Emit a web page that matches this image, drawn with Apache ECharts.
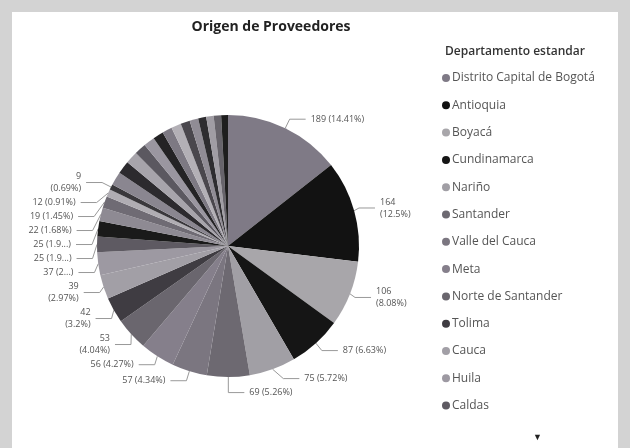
<!DOCTYPE html>
<html><head><meta charset="utf-8">
<script src="https://cdn.jsdelivr.net/npm/echarts@6/dist/echarts.min.js"></script>
<style>html,body{margin:0;padding:0;background:#d3d3d3;}#c{width:630px;height:448px;}</style>
</head><body><div id="c"></div>
<script>
const departamentos = ['Distrito Capital de Bogotá','Antioquia','Boyacá','Cundinamarca','Nariño','Santander','Valle del Cauca','Meta','Norte de Santander','Tolima','Cauca','Huila','Caldas','Risaralda','Atlántico','Bolívar','Quindío','Casanare','Magdalena','Cesar','Córdoba','Sucre','Caquetá','Putumayo','La Guajira','Chocó','Arauca','San Andrés','Amazonas','Guaviare','Vichada','Guainía'];
const proveedores = [189,164,106,87,75,69,57,56,53,42,39,37,25,25,22,19,12,9,22,21,20,19,18,17,16,16,15,14,13,12,12,11];
const etiquetaVisible = 18; // only the first 18 slices show a data label
const leyendaVisible = 13;  // legend shows the first 13 entries
const tituloGrafico = 'Origen de Proveedores';
const tituloLeyenda = 'Departamento estandar';

const colores = ['#7f7a86','#121212','#a8a6aa','#151515','#a19fa5','#6d6971','#7b7680','#857f8b','#6a666e','#3f3c42','#a29fa6','#9d99a2','#5e5a62','#1a1a1a','#8e8a93','#6f6b74','#b0adb3','#3a383c',
  '#8a8690','#2c2a2e','#a7a4ab','#5b5860','#9a96a0','#242325','#7d7983','#b3b0b6','#4a474d','#908c95','#2e2d30','#a09da4','#67646b','#1e1e1e'];
const envolver = [false,true,true,false,false,false,false,false,true,true,true,false,false,false,false,false,false,true];
const recortar = [0,0,0,0,0,0,0,0,0,0,0,5,7,7,0,0,0,0];

const total = proveedores.reduce((a,b)=>a+b,0);
function pct(v){ return String(Math.round(v/total*10000)/100); }

const data = departamentos.map((n,i)=>{
  const show = i < etiquetaVisible;
  return {name:n, value:proveedores[i], itemStyle:{color:colores[i]},
    label:{show:show}, labelLine:{show:show}};
});

const chart = echarts.init(document.getElementById('c'), null, {renderer:'canvas'});
chart.setOption({
  animation:false,
  graphic:[{type:'rect', shape:{x:12,y:12,width:606,height:440}, style:{fill:'#ffffff'}, z:-10},
           {type:'text', left:533, top:433, style:{text:'▼', fontSize:9, fill:'#222'}}],
  title:[{text:tituloGrafico, left:266, top:15, textAlign:'center',
          textStyle:{fontFamily:'Open Sans', fontWeight:'bold', fontSize:14, color:'#222'}},
         {text:tituloLeyenda, left:440, top:41,
          textStyle:{fontFamily:'Open Sans', fontWeight:600, fontSize:12, color:'#333'}}],
  legend:{orient:'vertical', left:437, top:67, icon:'circle', itemWidth:8, itemHeight:8, itemGap:15.3,
    data:departamentos.slice(0,leyendaVisible), selectedMode:false,
    textStyle:{fontFamily:'Open Sans', fontSize:12, color:'#555', padding:[0,0,0,-3]}},
  series:[{type:'pie', center:[228,246], radius:131, startAngle:90, clockwise:true,
    data:data, avoidLabelOverlap:true,
    label:{fontFamily:'Open Sans', fontSize:9, color:'#555', lineHeight:12,
      formatter:function(p){
        const i=p.dataIndex; const v=p.value;
        let s = v + (envolver[i]?'\n':' ') + '(' + pct(v) + '%)';
        if(recortar[i]>0){ s = s.slice(0,recortar[i]) + '...)'; }
        return s;
      }},
    labelLine:{length:10, length2:16, lineStyle:{color:'#999', width:1}},
    emphasis:{disabled:true}
  }]
});
</script></body></html>
